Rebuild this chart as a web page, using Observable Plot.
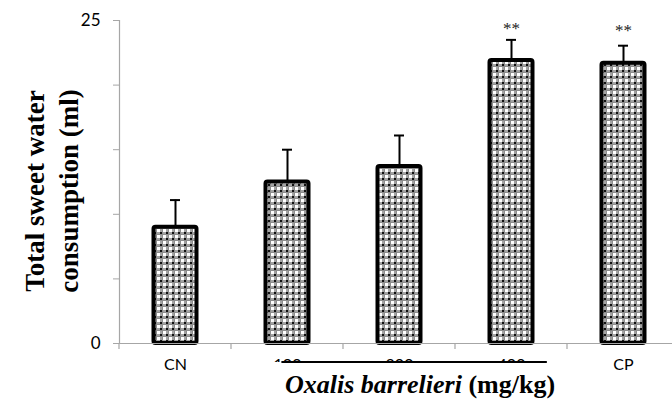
<!DOCTYPE html>
<html>
<head>
<meta charset="utf-8">
<script src="https://cdn.jsdelivr.net/npm/d3@7"></script>
<script src="https://cdn.jsdelivr.net/npm/@observablehq/plot@0.6"></script>
<style>
  html, body { margin: 0; padding: 0; background: #fff; }
  svg { display: block; }
</style>
</head>
<body>
<div id="chart"></div>
<script>
// ---- data ----
const categories = ["CN", "100", "200", "400", "CP"];
const means      = [9.0, 12.5, 13.7, 21.9, 21.7];
const errors     = [2.1, 2.5, 2.4, 1.6, 1.35];
const stars      = ["", "", "", "**", "**"];
const starY      = [null, null, null, 24.4, 24.25];
const yTicks     = [0, 5, 10, 15, 20, 25];
const yTickLabels = ["0", "", "", "", "", "25"];

const data = categories.map((c, i) => ({cat: c, mean: means[i], err: errors[i], star: stars[i], sy: starY[i]}));
const yLab = yTicks.map((t, i) => ({t, label: yTickLabels[i]})).filter(d => d.label);

const W = 672, H = 401;
const ML = 119, MT = 20, MB = 58;
const xRange = [119, 679];
const band = (xRange[1] - xRange[0]) / categories.length;
const barW = 43;
const inset = (band - barW) / 2;
const capW = 10;
const axisGray = "#a6a6a6";
const tickFont = "Lato, 'Open Sans', sans-serif";

const chart = Plot.plot({
  width: W, height: H,
  marginLeft: ML, marginTop: MT, marginBottom: MB, marginRight: 0,
  style: {background: "#fff", overflow: "hidden", color: "#000"},
  x: {domain: categories, range: xRange, padding: 0, axis: null},
  y: {domain: [0, 25], axis: null},
  marks: [
    // error bars
    Plot.ruleX(data, {x: "cat", y1: "mean", y2: d => d.mean + d.err, stroke: "#000", strokeWidth: 2}),
    Plot.tickY(data, {x: "cat", y: d => d.mean + d.err, stroke: "#000", strokeWidth: 2, inset: (band - capW) / 2}),
    // bars
    Plot.barY(data, {x: "cat", y: "mean", fill: "url(#checker)", stroke: "#000", strokeWidth: 4, insetLeft: inset, insetRight: inset, rx: 2}),
    // significance stars
    Plot.text(data.filter(d => d.star), {x: "cat", y: "sy", text: "star", fontSize: 17, fontFamily: "'Liberation Serif', serif", fill: "#222"}),
    // axes lines
    Plot.ruleY([0], {stroke: axisGray, strokeWidth: 1.2, insetLeft: -6}),
    Plot.ruleX([categories[0]], {y1: 0, y2: 25, dx: -band / 2, stroke: axisGray, strokeWidth: 1.2}),
    // y axis tick marks
    Plot.axisY({ticks: yTicks, tickFormat: () => "", tickSize: 6, stroke: axisGray, label: null}),
    // y tick labels
    Plot.text(yLab, {y: "t", text: "label", frameAnchor: "left", dx: -19, textAnchor: "end",
      fontSize: 17, fontFamily: tickFont, fill: "#000"}),
    // x tick labels
    Plot.text(categories, {x: d => d, text: d => d, frameAnchor: "bottom", dy: 26,
      fontSize: 16, fontFamily: tickFont, fill: "#000"})
  ]
});

document.getElementById("chart").appendChild(chart);

const svg = d3.select(chart);
// checker pattern
const defs = svg.insert("defs", ":first-child");
const pat = defs.append("pattern").attr("id", "checker").attr("patternUnits", "userSpaceOnUse")
  .attr("width", 6).attr("height", 6);
pat.append("rect").attr("width", 6).attr("height", 6).attr("fill", "#8c8c8c");
pat.append("rect").attr("x", 1).attr("y", 1).attr("width", 3).attr("height", 3).attr("fill", "#fff");
pat.append("rect").attr("x", 4).attr("y", 4).attr("width", 2).attr("height", 2).attr("fill", "#111");
pat.append("rect").attr("x", 4.5).attr("y", 1).attr("width", 1).attr("height", 3).attr("fill", "#bbb");
pat.append("rect").attr("x", 1).attr("y", 4.5).attr("width", 3).attr("height", 1).attr("fill", "#bbb");

// category boundary ticks
const xb = d3.scaleBand().domain(categories).range(xRange).padding(0);
const y0 = H - MB;
const g = svg.append("g");
categories.forEach(c => {
  g.append("line").attr("x1", xb(c)).attr("x2", xb(c)).attr("y1", y0).attr("y2", y0 + 6)
    .attr("stroke", axisGray).attr("stroke-width", 1.2);
});

// white cover & bracket line over dose labels
const lx1 = xb("100") + band * 0.45, lx2 = xb("400") + band * 0.82;
g.append("rect").attr("x", lx1 - 10).attr("y", y0 + 19).attr("width", lx2 - lx1 + 20).attr("height", 16).attr("fill", "#fff");
g.append("line").attr("x1", lx1).attr("x2", lx2).attr("y1", y0 + 19).attr("y2", y0 + 19)
  .attr("stroke", "#000").attr("stroke-width", 2.2);

// x title
const xt = g.append("text").attr("x", 420).attr("y", 393).attr("text-anchor", "middle")
  .attr("font-family", "'Liberation Serif', 'Times New Roman', serif").attr("font-size", 26).attr("font-weight", "bold").attr("fill", "#000");
xt.append("tspan").attr("font-style", "italic").text("Oxalis barrelieri");
xt.append("tspan").text(" (mg/kg)");

// y title
const yt = g.append("text").attr("transform", "translate(0,191) rotate(-90)").attr("text-anchor", "middle")
  .attr("font-family", "'Liberation Serif', 'Times New Roman', serif").attr("font-size", 27).attr("font-weight", "bold").attr("fill", "#000");
yt.append("tspan").attr("x", 0).attr("y", 44).text("Total sweet water");
yt.append("tspan").attr("x", 0).attr("y", 78).text("consumption (ml)");
</script>
</body>
</html>
